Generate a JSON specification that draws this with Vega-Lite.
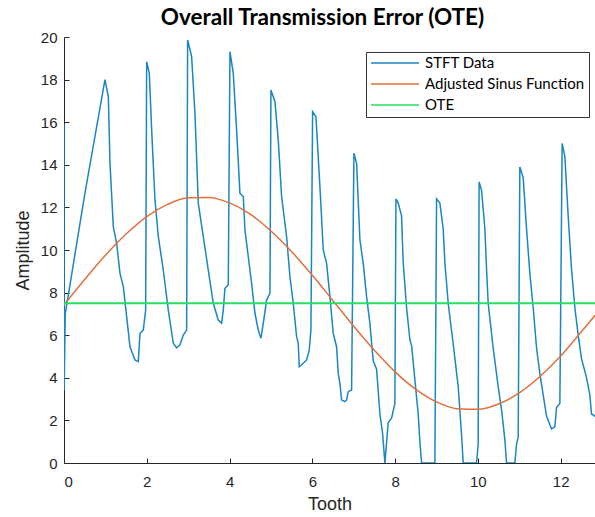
{
  "$schema": "https://vega.github.io/schema/vega-lite/v6.json",
  "width": 531,
  "height": 426,
  "autosize": "none",
  "padding": {"left": 64, "top": 37, "right": 0, "bottom": 54},
  "background": "white",
  "title": {"text": "Overall Transmission Error (OTE)", "font": "Lato", "fontSize": 22.5, "fontWeight": "bold", "color": "black", "anchor": "middle", "offset": 1, "dx": -7},
  "config": {
    "view": {"stroke": null},
    "axis": {"grid": false, "domainColor": "#262626", "tickColor": "#262626", "labelColor": "#262626", "titleColor": "#262626", "labelFont": "Liberation Sans", "titleFont": "Liberation Sans", "labelFontSize": 15, "titleFontSize": 18, "titleFontWeight": "normal", "tickSize": -5, "domainWidth": 1, "tickWidth": 1}
  },
  "datasets": {
    "stft": [
      {"t":0,"v":15.9},{"t":0.003,"v":3.4},{"t":0.03,"v":7.0},{"t":0.5,"v":12.6},{"t":0.99,"v":18.0},
      {"t":1.071,"v":17.2},{"t":1.111,"v":14.07},{"t":1.192,"v":11.09},{"t":1.272,"v":10.31},{"t":1.353,"v":8.9},{"t":1.433,"v":8.28},{"t":1.514,"v":6.87},{"t":1.594,"v":5.46},{"t":1.715,"v":4.84},{"t":1.795,"v":4.76},{"t":1.836,"v":6.09},{"t":1.916,"v":6.24},{"t":1.973,"v":7.18},{"t":1.997,"v":18.84},
      {"t":2.061,"v":18.29},{"t":2.118,"v":15.63},{"t":2.198,"v":12.35},{"t":2.279,"v":10.63},{"t":2.399,"v":9.06},{"t":2.52,"v":7.18},{"t":2.641,"v":5.62},{"t":2.721,"v":5.4},{"t":2.802,"v":5.55},{"t":2.882,"v":6.01},{"t":2.963,"v":6.24},{"t":2.987,"v":19.86},
      {"t":3.084,"v":19.08},{"t":3.164,"v":16.42},{"t":3.245,"v":12.19},{"t":3.365,"v":10.63},{"t":3.486,"v":9.06},{"t":3.607,"v":7.5},{"t":3.727,"v":6.71},{"t":3.808,"v":6.56},{"t":3.848,"v":7.18},{"t":3.889,"v":8.2},{"t":3.969,"v":8.36},{"t":4.01,"v":19.31},
      {"t":4.09,"v":18.29},{"t":4.171,"v":15.63},{"t":4.251,"v":12.66},{"t":4.332,"v":12.51},{"t":4.372,"v":10.94},{"t":4.452,"v":9.69},{"t":4.533,"v":8.44},{"t":4.614,"v":7.03},{"t":4.694,"v":6.24},{"t":4.758,"v":5.85},{"t":4.815,"v":6.56},{"t":4.895,"v":7.65},{"t":4.976,"v":7.97},{"t":5.0,"v":17.51},
      {"t":5.097,"v":16.96},{"t":5.177,"v":15.16},{"t":5.258,"v":12.5},{"t":5.378,"v":10.63},{"t":5.419,"v":9.69},{"t":5.459,"v":8.75},{"t":5.539,"v":7.5},{"t":5.62,"v":5.93},{"t":5.66,"v":5.62},{"t":5.684,"v":4.52},{"t":5.781,"v":4.68},{"t":5.862,"v":4.84},{"t":5.926,"v":5.31},{"t":5.966,"v":6.24},{"t":6.007,"v":16.49},
      {"t":6.087,"v":16.26},{"t":6.184,"v":12.97},{"t":6.264,"v":10.0},{"t":6.345,"v":9.37},{"t":6.425,"v":7.81},{"t":6.505,"v":6.09},{"t":6.586,"v":5.46},{"t":6.626,"v":4.21},{"t":6.667,"v":3.74},{"t":6.707,"v":2.96},{"t":6.787,"v":2.88},{"t":6.828,"v":2.96},{"t":6.868,"v":3.35},{"t":6.949,"v":3.43},{"t":7.005,"v":14.54},
      {"t":7.07,"v":14.07},{"t":7.15,"v":10.47},{"t":7.23,"v":9.37},{"t":7.311,"v":7.81},{"t":7.391,"v":6.56},{"t":7.471,"v":4.8},{"t":7.553,"v":4.4},{"t":7.633,"v":2.3},{"t":7.697,"v":1.4},{"t":7.754,"v":0},{"t":7.833,"v":1.9},{"t":7.915,"v":2.1},{"t":7.995,"v":2.8},{"t":8.02,"v":12.4},
      {"t":8.075,"v":12.2},{"t":8.156,"v":11.6},{"t":8.196,"v":9.4},{"t":8.277,"v":7.3},{"t":8.357,"v":5.8},{"t":8.4,"v":5.5},{"t":8.478,"v":3.9},{"t":8.558,"v":2.3},{"t":8.599,"v":1.0},{"t":8.64,"v":0},{"t":8.961,"v":0},{"t":9.002,"v":12.4},
      {"t":9.082,"v":12.2},{"t":9.162,"v":11.0},{"t":9.203,"v":9.4},{"t":9.283,"v":7.5},{"t":9.403,"v":5.6},{"t":9.524,"v":3.6},{"t":9.606,"v":1.3},{"t":9.645,"v":0},{"t":9.969,"v":0},{"t":10.007,"v":0.9},{"t":10.03,"v":13.2},
      {"t":10.089,"v":12.8},{"t":10.169,"v":11.0},{"t":10.21,"v":9.1},{"t":10.249,"v":7.5},{"t":10.37,"v":5.4},{"t":10.49,"v":3.6},{"t":10.572,"v":2.5},{"t":10.652,"v":1.1},{"t":10.693,"v":0},{"t":10.894,"v":0},{"t":10.935,"v":0.9},{"t":10.974,"v":1.2},{"t":11.014,"v":13.9},
      {"t":11.095,"v":13.4},{"t":11.176,"v":11.0},{"t":11.256,"v":8.9},{"t":11.336,"v":7.3},{"t":11.418,"v":5.4},{"t":11.498,"v":4.2},{"t":11.578,"v":3.2},{"t":11.659,"v":2.2},{"t":11.78,"v":1.6},{"t":11.86,"v":1.7},{"t":11.9,"v":2.6},{"t":11.981,"v":2.8},{"t":12.036,"v":15.0},
      {"t":12.101,"v":14.4},{"t":12.182,"v":11.6},{"t":12.263,"v":9.1},{"t":12.343,"v":7.3},{"t":12.423,"v":6.0},{"t":12.505,"v":4.9},{"t":12.626,"v":4.0},{"t":12.705,"v":3.2},{"t":12.746,"v":2.3},{"t":12.83,"v":2.2},{"t":12.9,"v":2.2}
    ],
    "sinus": [
      {"t":0,"v":7.43},{"t":0.5,"v":8.62},{"t":1,"v":9.75},{"t":1.5,"v":10.75},{"t":2,"v":11.57},{"t":2.5,"v":12.14},{"t":3,"v":12.45},{"t":3.5,"v":12.47},{"t":4,"v":12.21},{"t":4.5,"v":11.68},{"t":5,"v":10.89},{"t":5.5,"v":9.92},{"t":6,"v":8.81},{"t":6.5,"v":7.62},{"t":7,"v":6.42},{"t":7.5,"v":5.29},{"t":8,"v":4.28},{"t":8.5,"v":3.46},{"t":9,"v":2.87},{"t":9.5,"v":2.55},{"t":10,"v":2.52},{"t":10.5,"v":2.77},{"t":11,"v":3.29},{"t":11.5,"v":4.06},{"t":12,"v":5.02},{"t":12.5,"v":6.16},{"t":12.85,"v":6.97}
    ],
    "ote": [{"t":0,"v":7.5},{"t":12.9,"v":7.5}]
  },
  "encoding": {
    "x": {"field": "t", "type": "quantitative", "scale": {"domain": [0, 12.83], "nice": false}, "axis": {"title": "Tooth", "values": [0,2,4,6,8,10,12], "labelPadding": 16, "titlePadding": 6}},
    "y": {"field": "v", "type": "quantitative", "scale": {"domain": [0, 20], "nice": false}, "axis": {"title": "Amplitude", "values": [0,2,4,6,8,10,12,14,16,18,20], "labelPadding": 12, "titlePadding": 8}}
  },
  "layer": [
    {"data": {"name": "stft"}, "mark": {"type": "line", "strokeWidth": 1.5, "clip": true}, "encoding": {"color": {"datum": "STFT Data"}}},
    {"data": {"name": "sinus"}, "mark": {"type": "line", "strokeWidth": 1.5, "interpolate": "monotone", "clip": true}, "encoding": {"color": {"datum": "Adjusted Sinus Function"}}},
    {"data": {"name": "ote"}, "mark": {"type": "line", "strokeWidth": 2, "clip": true}, "encoding": {"color": {"datum": "OTE", "type": "nominal", "scale": {"domain": ["STFT Data", "Adjusted Sinus Function", "OTE"], "range": ["#1a86c2", "#e0703c", "#22e060"]}, "legend": {"orient": "none", "legendX": 302, "legendY": 15, "title": null, "strokeColor": "#333", "fillColor": "white", "padding": 4, "cornerRadius": 0, "symbolType": "stroke", "symbolSize": 2304, "symbolStrokeWidth": 1.5, "clipHeight": 14, "rowPadding": 6, "labelOffset": 5, "labelFont": "Lato", "labelFontSize": 15, "labelColor": "black", "labelLimit": 300}}}}
  ]
}
